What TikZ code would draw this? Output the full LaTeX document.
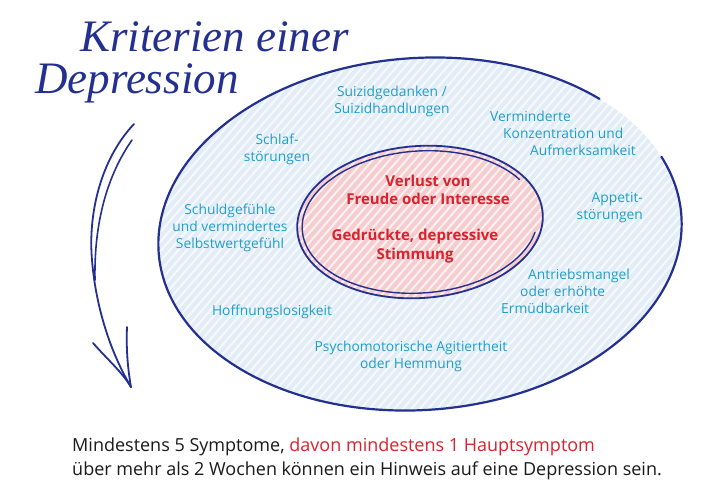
\documentclass[tikz,border=0pt]{standalone}
\usepackage{fontspec}
\setmainfont{Open Sans}
\newfontfamily\handfont{Liberation Serif}
\usetikzlibrary{positioning}
\definecolor{navy}{HTML}{24308F}
\definecolor{symblue}{HTML}{1E9FCB}
\definecolor{corered}{HTML}{D8232E}
\definecolor{ringfill}{HTML}{E3EDF8}
\definecolor{corefill}{HTML}{F6CDCF}
\definecolor{inktext}{HTML}{1A1A1A}

\begin{document}
\begin{tikzpicture}[x=1pt,y=-1pt,
  rim/.style={draw=navy,line width=2.2pt,line cap=round},
  hatch/.style={white,line width=2pt,opacity=0.7},
  symptom/.style={text=symblue,font=\fontsize{13.8}{17}\selectfont,align=center,inner sep=0pt},
  core/.style={text=corered,font=\bfseries\fontsize{15}{18.5}\selectfont,align=center,inner sep=0pt}]
\useasboundingbox[fill=white] (0,0) rectangle (703,501);
% outer ring, open at the upper right
\begin{scope}[shift={(420,234)},x=1pt,y=1pt,rotate=4]
  \fill[ringfill] (0,0) ellipse[x radius=262,y radius=176];
  \begin{scope}
    \clip (0,0) ellipse[x radius=262,y radius=176];
    \foreach \k in {-50,...,50}
      \draw[hatch] (\k*9-200,-200) -- (\k*9+200,200);
  \end{scope}
  \draw[rim] (44:262 and 176) arc[start angle=44,end angle=380,x radius=262,y radius=176];
\end{scope}
% inner core, double stroke
\begin{scope}[shift={(420,222)},x=1pt,y=1pt,rotate=4]
  \fill[corefill] (0,0) ellipse[x radius=123,y radius=76];
  \begin{scope}
    \clip (0,0) ellipse[x radius=123,y radius=76];
    \foreach \k in {-25,...,25}
      \draw[hatch] (\k*9-100,-100) -- (\k*9+100,100);
  \end{scope}
  \draw[rim,line width=1.8pt] (0,0) ellipse[x radius=123,y radius=76];
  \draw[rim,line width=1.4pt] (30:118 and 71) arc[start angle=30,end angle=345,x radius=118,y radius=71];
\end{scope}
% symptoms
\node[symptom] (suizid) at (392,101) {Suizidgedanken /\\Suizidhandlungen};
\node[symptom] (schlaf) at (277,149) {Schlaf-\\störungen};
\node[symptom,anchor=west,align=left] (konz) at (490,133) {Verminderte\\\hspace*{13pt}Konzentration und\\\hspace*{40pt}Aufmerksamkeit};
\node[symptom,anchor=east,align=right] (appetit) at (643,208) {Appetit-\\störungen};
\node[symptom] (schuld) at (230,228) {Schuldgefühle\\und vermindertes\\Selbstwertgefühl};
\node[symptom] (hoffnung) at (272,312) {Hoffnungslosigkeit};
\node[symptom] (psycho) at (411,356) {Psychomotorische Agitiertheit\\oder Hemmung};
\node[symptom,anchor=west,align=left] (antrieb) at (501,291) {\hspace*{27pt}Antriebsmangel\\\hspace*{19pt}oder erhöhte\\Ermüdbarkeit};
% main symptoms
\node[core] (verlust) at (428,190) {Verlust von\\Freude oder Interesse};
\node[core] (stimmung) at (415,246) {Gedrückte, depressive\\Stimmung};
% title and arrow
\node[font=\handfont\itshape\fontsize{45}{42}\selectfont,text=navy,anchor=west,align=left,inner sep=0pt] (titel) at (35,62) {\hspace*{45pt}Kriterien einer\\Depression};
\draw[navy,line width=1.8pt,line cap=round]
  (134,124) .. controls (100,160) and (88,215) .. (92,260)
  .. controls (96,310) and (112,355) .. (131,387);
\draw[navy,line width=1.6pt,line cap=round]
  (132,140) .. controls (104,180) and (94,230) .. (95,280);
\draw[navy,line width=1.8pt,line cap=round]
  (93,343) .. controls (108,360) and (122,372) .. (131,387);
\draw[navy,line width=1.8pt,line cap=round]
  (127,327) .. controls (126,350) and (128,370) .. (131,387);
% note
\node[anchor=west,align=left,inner sep=0pt,text=inktext,font=\fontsize{18}{24}\selectfont] (hinweis) at (72,459)
  {Mindestens 5 Symptome, \textcolor{corered}{davon mindestens 1 Hauptsymptom}\\über mehr als 2 Wochen können ein Hinweis auf eine Depression sein.};
\end{tikzpicture}
\end{document}
